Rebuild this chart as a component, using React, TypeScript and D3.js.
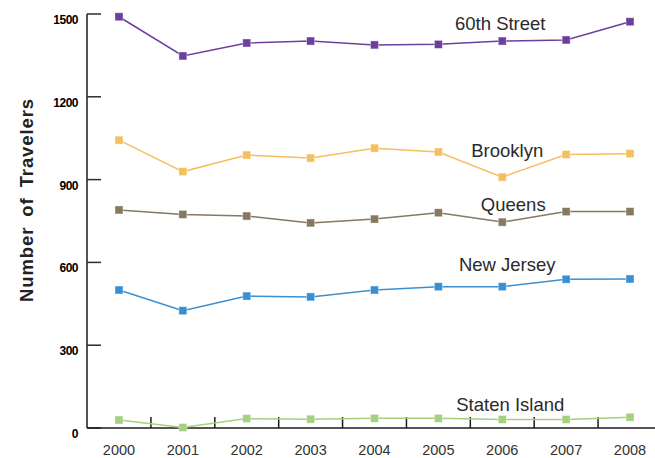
import React from 'react';
import * as d3 from 'd3';

const years = ['2000', '2001', '2002', '2003', '2004', '2005', '2006', '2007', '2008'];
const street60 = [1490, 1348, 1395, 1402, 1388, 1390, 1402, 1406, 1472];
const brooklyn = [1043, 929, 989, 978, 1014, 1000, 909, 991, 994];
const queens = [790, 774, 768, 743, 757, 780, 746, 784, 784];
const newJersey = [500, 425, 478, 475, 500, 512, 512, 539, 540];
const statenIsland = [29, 2, 34, 32, 35, 35, 31, 31, 39];
const yTicks = [0, 300, 600, 900, 1200, 1500];

const series = [
    {name: '60th Street', values: street60, color: '#6c3f9e', labelDx: -8, labelDy: -11},
    {name: 'Brooklyn', values: brooklyn, color: '#f4bf5d', labelDx: -1, labelDy: -20},
    {name: 'Queens', values: queens, color: '#877861', labelDx: 5, labelDy: -11},
    {name: 'New Jersey', values: newJersey, color: '#3a8fd1', labelDx: -1, labelDy: -16},
    {name: 'Staten Island', values: statenIsland, color: '#a6cf7f', labelDx: 2, labelDy: -8},
];

function App() {
    const width = 655;
    const height = 458;
    const left = 87;
    const bottom = 428;
    const top = 14;

    const x = d3.scalePoint<string>().domain(years).range([119, 630]);
    const step = x.step();
    const y = d3.scaleLinear().domain([0, 1500]).range([bottom, top]);
    const line = d3.line<number>()
        .x((d, i) => x(years[i]) as number)
        .y(d => y(d));
    const labelX = (x('2006') as number) + 6;
    const sq = 8;

    return (
        <svg width={width} height={height} style={{position: 'absolute', left: 0, top: 0}}
             fontFamily="'Liberation Sans', Arial, sans-serif">
            {/* y axis */}
            <line x1={left} x2={left} y1={top} y2={bottom} stroke="#1a1a1a" strokeWidth={1.5}/>
            {yTicks.map(t => (
                <g key={t}>
                    <line x1={left} x2={left + 14} y1={y(t)} y2={y(t)} stroke="#3b2626" strokeWidth={1.5}/>
                    <text x={78} y={y(t) + 10} textAnchor="end" fontSize={12} fontWeight="bold"
                          letterSpacing={-0.5} fill="#000">{t}</text>
                </g>
            ))}
            <text transform={`translate(33,200) rotate(-90)`} textAnchor="middle" fontSize={18.5}
                  fontWeight="bold" letterSpacing={0.9} wordSpacing={4} fill="#222">Number of Travelers</text>

            {/* x axis */}
            <line x1={left} x2={width} y1={bottom} y2={bottom} stroke="#1a1a1a" strokeWidth={1.5}/>
            {years.slice(0, -1).map(yr => (
                <line key={yr} x1={(x(yr) as number) + step / 2} x2={(x(yr) as number) + step / 2}
                      y1={bottom} y2={bottom - 11} stroke="#1a1a1a" strokeWidth={1.5}/>
            ))}
            {years.map(yr => (
                <text key={yr} x={x(yr)} y={455} textAnchor="middle" fontSize={14.5} fill="#333">{yr}</text>
            ))}

            {series.map(s => (
                <g key={s.name}>
                    <path d={line(s.values) || ''} fill="none" stroke={s.color} strokeWidth={1.5}/>
                    {s.values.map((v, i) => (
                        <rect key={i} x={(x(years[i]) as number) - sq / 2} y={y(v) - sq / 2} width={sq} height={sq}
                              fill={s.color} stroke="#fff" strokeOpacity={0.5} strokeWidth={0.8}/>
                    ))}
                    <text x={labelX + s.labelDx} y={y(s.values[6]) + s.labelDy} textAnchor="middle" fontSize={18.5}
                          fill="#2a2a2a">{s.name}</text>
                </g>
            ))}
        </svg>
    );
}

export default App;
